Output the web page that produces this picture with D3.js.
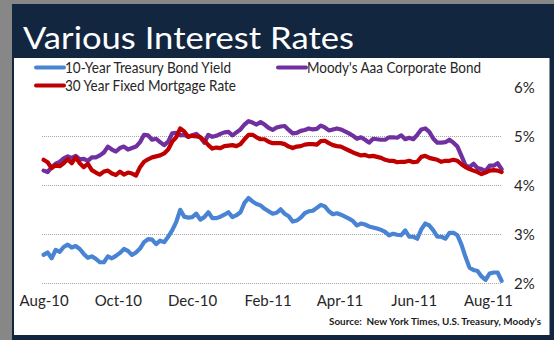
<!DOCTYPE html>
<html>
<head>
<meta charset="utf-8">
<script src="https://cdn.jsdelivr.net/npm/d3@7"></script>
<style>
  html, body { margin: 0; padding: 0; background: #878787; }
  svg { display: block; }
  text { font-family: Lato, "Open Sans", sans-serif; }
</style>
</head>
<body>
<svg id="chart" width="554" height="340"></svg>
<script>
// Observations, sampled every 3.3 days from 1 Aug 2010
const sampleStart = new Date(2010, 7, 1);
const sampleStepDays = 3.3;

// 10-Year Treasury Bond Yield (%)
const treasury10y = [
  2.58, 2.63, 2.51, 2.68, 2.64, 2.74, 2.79, 2.73, 2.76, 2.70,
  2.60, 2.52, 2.55, 2.50, 2.43, 2.43, 2.55, 2.51, 2.56, 2.62,
  2.70, 2.66, 2.58, 2.63, 2.71, 2.84, 2.90, 2.89, 2.80, 2.87,
  2.84, 2.95, 3.08, 3.25, 3.50, 3.36, 3.34, 3.35, 3.42, 3.30,
  3.35, 3.45, 3.33, 3.33, 3.36, 3.40, 3.45, 3.35, 3.39, 3.45,
  3.64, 3.74, 3.67, 3.62, 3.59, 3.52, 3.47, 3.42, 3.44, 3.51,
  3.42, 3.37, 3.26, 3.28, 3.34, 3.43, 3.47, 3.48, 3.54, 3.60,
  3.57, 3.47, 3.41, 3.43, 3.40, 3.36, 3.32, 3.27, 3.18, 3.22,
  3.20, 3.16, 3.14, 3.12, 3.09, 3.05, 2.98, 3.01, 2.99, 2.98,
  3.08, 2.95, 2.95, 2.91, 3.10, 3.22, 3.18, 3.08, 2.95, 2.95,
  2.91, 3.03, 3.03, 2.98, 2.79, 2.54, 2.32, 2.27, 2.25, 2.14,
  2.07, 2.20, 2.22, 2.22, 2.05
];

// Moody's Aaa Corporate Bond yield (%)
const moodysAaa = [
  4.30, 4.27, 4.37, 4.44, 4.48, 4.55, 4.59, 4.56, 4.60, 4.53,
  4.54, 4.50, 4.57, 4.57, 4.61, 4.67, 4.79, 4.73, 4.69, 4.76,
  4.79, 4.73, 4.76, 4.79, 4.88, 5.03, 5.02, 4.93, 4.95, 4.88,
  4.82, 4.89, 5.06, 5.07, 5.02, 5.03, 4.99, 5.02, 5.05, 4.98,
  4.87, 5.03, 4.99, 5.01, 5.05, 5.08, 5.09, 5.02, 5.08, 5.14,
  5.24, 5.31, 5.28, 5.24, 5.29, 5.24, 5.17, 5.13, 5.18, 5.20,
  5.21, 5.13, 5.06, 5.07, 5.11, 5.13, 5.16, 5.14, 5.15, 5.22,
  5.18, 5.12, 5.14, 5.16, 5.14, 5.10, 5.06, 5.01, 4.95, 4.98,
  4.93, 4.87, 4.95, 4.94, 4.93, 4.93, 4.98, 4.98, 4.97, 5.02,
  4.94, 4.97, 4.94, 5.03, 5.14, 5.16, 5.09, 4.95, 4.87, 4.87,
  4.88, 4.93, 4.87, 4.79, 4.60, 4.41, 4.37, 4.44, 4.35, 4.33,
  4.29, 4.40, 4.40, 4.45, 4.33
];

// 30 Year Fixed Mortgage Rate (%)
const mortgage30y = [
  4.52, 4.47, 4.35, 4.41, 4.39, 4.45, 4.53, 4.45, 4.57, 4.45,
  4.37, 4.44, 4.31, 4.26, 4.22, 4.28, 4.30, 4.24, 4.21, 4.28,
  4.22, 4.26, 4.24, 4.20, 4.37, 4.48, 4.53, 4.57, 4.59, 4.61,
  4.65, 4.73, 4.89, 4.98, 5.16, 5.10, 4.99, 5.01, 5.00, 4.98,
  4.91, 4.82, 4.75, 4.77, 4.76, 4.80, 4.81, 4.82, 4.80, 4.84,
  4.94, 5.03, 5.03, 4.98, 4.94, 4.94, 4.89, 4.86, 4.86, 4.86,
  4.84, 4.79, 4.76, 4.79, 4.80, 4.83, 4.84, 4.84, 4.83, 4.90,
  4.91, 4.86, 4.82, 4.80, 4.79, 4.75, 4.71, 4.67, 4.64, 4.61,
  4.62, 4.59, 4.60, 4.58, 4.56, 4.52, 4.50, 4.50, 4.47, 4.48,
  4.48, 4.50, 4.47, 4.48, 4.58, 4.60, 4.56, 4.54, 4.52, 4.48,
  4.50, 4.50, 4.52, 4.50, 4.43, 4.37, 4.33, 4.30, 4.27, 4.23,
  4.26, 4.30, 4.31, 4.30, 4.27
];

// Axis ticks
const xTickDates = [
  new Date(2010, 7, 1), new Date(2010, 9, 1), new Date(2010, 11, 1),
  new Date(2011, 1, 1), new Date(2011, 3, 1), new Date(2011, 5, 1),
  new Date(2011, 7, 1)
];
const xTickLabels = ["Aug-10", "Oct-10", "Dec-10", "Feb-11", "Apr-11", "Jun-11", "Aug-11"];
const yTickValues = [2, 3, 4, 5, 6];
const yGridValues = [2, 3, 4, 5];

const seriesNames = ["10-Year Treasury Bond Yield", "Moody's Aaa Corporate Bond", "30 Year Fixed Mortgage Rate"];
const seriesColors = ["#4884d3", "#7030a0", "#c00000"];

const sampleDates = treasury10y.map((_, i) =>
  new Date(sampleStart.getTime() + i * sampleStepDays * 864e5));

const series = [
  { name: seriesNames[0], color: seriesColors[0], values: treasury10y },
  { name: seriesNames[1], color: seriesColors[1], values: moodysAaa },
  { name: seriesNames[2], color: seriesColors[2], values: mortgage30y }
];

const svg = d3.select("#chart");

// Frame: grey margin, navy panel, white chart area
svg.append("rect").attr("x", 0).attr("y", 0).attr("width", 554).attr("height", 340).attr("fill", "#878787");
svg.append("rect").attr("x", 12).attr("y", 4).attr("width", 542).attr("height", 336).attr("fill", "#13263f");
svg.append("rect").attr("x", 14).attr("y", 58).attr("width", 535.5).attr("height", 277).attr("fill", "#ffffff");

svg.append("text")
  .attr("x", 23).attr("y", 49)
  .attr("fill", "#ffffff")
  .attr("font-size", 30)
  .attr("textLength", 331).attr("lengthAdjust", "spacingAndGlyphs")
  .text("Various Interest Rates");

const x = d3.scaleTime()
  .domain([xTickDates[0], xTickDates[xTickDates.length - 1]])
  .range([43.6, 488]);

const y = d3.scaleLinear().domain([2, 6]).range([283.3, 87.3]);

// Dotted horizontal gridlines
svg.append("g")
  .selectAll("line")
  .data(yGridValues)
  .join("line")
  .attr("x1", 42).attr("x2", 501)
  .attr("y1", d => Math.round(y(d)) + 0.5).attr("y2", d => Math.round(y(d)) + 0.5)
  .attr("stroke", "#a6a6a6")
  .attr("stroke-width", 1)
  .attr("stroke-dasharray", "1,1");

// Right-hand value axis
const yAxis = svg.append("g")
  .attr("transform", "translate(514,0)")
  .call(d3.axisRight(y).tickValues(yTickValues).tickFormat(d => d + "%").tickSize(0).tickPadding(0));
yAxis.select(".domain").remove();
yAxis.selectAll("text")
  .attr("font-family", "Lato, sans-serif")
  .attr("font-size", 15)
  .attr("fill", "#262626")
  .attr("dy", "0.36em");

// Date axis
const xAxis = svg.append("g")
  .attr("transform", "translate(0,293)")
  .call(d3.axisBottom(x).tickValues(xTickDates).tickFormat((d, i) => xTickLabels[i]).tickSize(0).tickPadding(0));
xAxis.select(".domain").remove();
xAxis.selectAll("text")
  .attr("font-family", "Lato, sans-serif")
  .attr("font-size", 15)
  .attr("fill", "#262626")
  .attr("dy", "0.85em");

// Rate lines
const line = d3.line()
  .x((d, i) => x(sampleDates[i]))
  .y(d => y(d))
  .curve(d3.curveLinear);

svg.append("g")
  .selectAll("path")
  .data(series)
  .join("path")
  .attr("d", s => line(s.values))
  .attr("fill", "none")
  .attr("stroke", s => s.color)
  .attr("stroke-width", 4.2)
  .attr("stroke-linejoin", "round")
  .attr("stroke-linecap", "round");

// Legend
const legendItems = [
  { s: series[0], lx: 36, ly: 67.5, tl: 166 },
  { s: series[2], lx: 36, ly: 85.5, tl: 171 },
  { s: series[1], lx: 278, ly: 67.5, tl: 174 }
];
const legend = svg.append("g");
legendItems.forEach(it => {
  legend.append("line")
    .attr("x1", it.lx).attr("x2", it.lx + 28)
    .attr("y1", it.ly).attr("y2", it.ly)
    .attr("stroke", it.s.color).attr("stroke-width", 4)
    .attr("stroke-linecap", "round");
  legend.append("text")
    .attr("x", it.lx + 29).attr("y", it.ly + 5)
    .attr("font-size", 15)
    .attr("fill", "#262626")
    .attr("textLength", it.tl).attr("lengthAdjust", "spacingAndGlyphs")
    .text(it.s.name);
});

svg.append("text")
  .attr("x", 329).attr("y", 325)
  .attr("font-size", 10)
  .attr("font-weight", "bold")
  .attr("fill", "#1a1a1a")
  .attr("textLength", 212).attr("lengthAdjust", "spacingAndGlyphs")
  .attr("xml:space", "preserve")
  .text("Source:  New York Times, U.S. Treasury, Moody's");
</script>
</body>
</html>
